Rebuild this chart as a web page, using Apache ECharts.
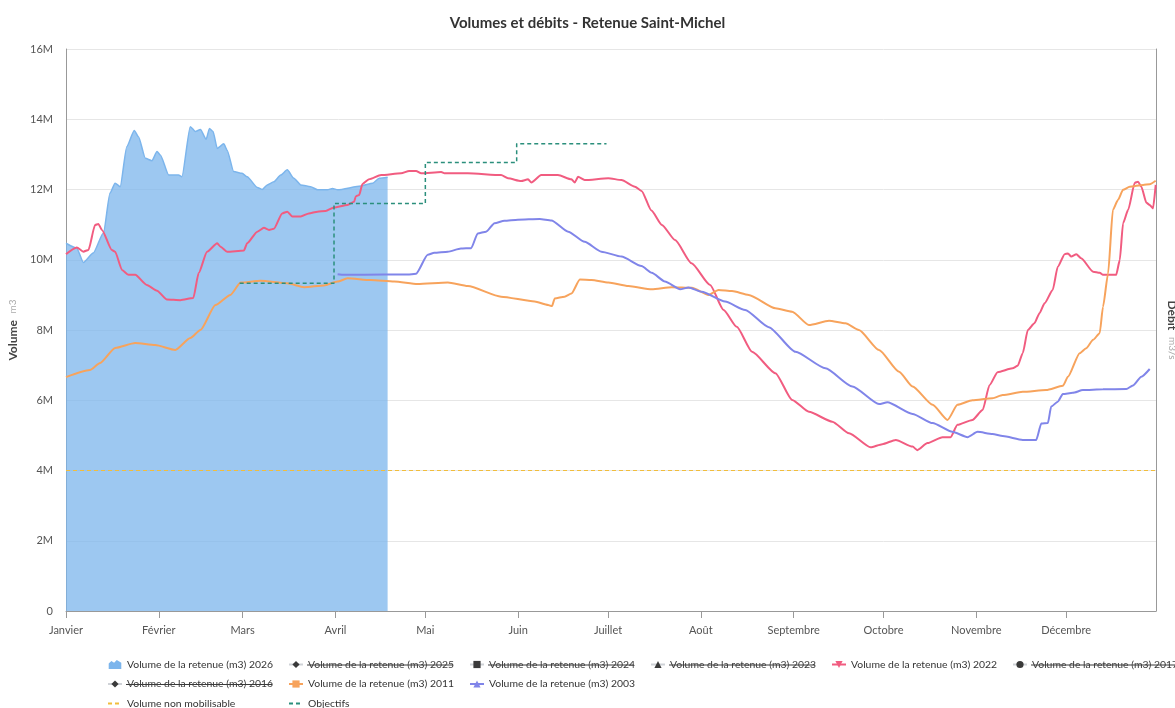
<!DOCTYPE html>
<html>
<head>
<meta charset="utf-8">
<script src="https://cdn.jsdelivr.net/npm/echarts@6/dist/echarts.min.js"></script>
<style>
html,body{margin:0;padding:0;background:#fff;}
#chart{width:1175px;height:708px;}
</style>
</head>
<body>
<div id="chart"></div>
<script>
// ---- Data (values in millions of m3, x = day of year, 0 = 1 January) ----
const MONTH_NAMES = ['Janvier','Février','Mars','Avril','Mai','Juin','Juillet','Août','Septembre','Octobre','Novembre','Décembre'];
const MONTH_START_DAYS = [0,31,59,90,120,151,181,212,243,273,304,334];
const Y_TICKS_M = [0,2,4,6,8,10,12,14,16];

const vol2026 = [
  [0,10.47],[3.6,10.33],[5.8,9.92],[9.1,10.19],[12.5,10.76],[14.7,11.9],[16.4,12.18],[18.1,12.08],
  [20.3,13.22],[22.8,13.68],[24.2,13.5],[26.5,12.89],[28.7,12.82],[30.4,13.08],[31.5,12.98],[34.3,12.41],
  [37.6,12.41],[38.7,12.36],[41.5,13.79],[43.2,13.65],[44.9,13.71],[46.8,13.43],[47.9,13.74],[49.1,13.65],
  [50.5,13.17],[52.7,13.3],[53.8,13.12],[56,12.51],[58.8,12.46],[60.5,12.36],[63.9,12.06],[65.5,12.0],
  [67.2,12.13],[69.4,12.22],[71.7,12.41],[73.9,12.56],[76.1,12.32],[78.4,12.13],[81.7,12.08],[84,11.99],
  [87.3,11.99],[89,12.03],[90.7,11.99],[98.5,12.1],[102.4,12.18],[104.6,12.32],[107.4,12.35]
];
const vol2022 = [
  [0,10.16],[3.6,10.35],[5.8,10.23],[7.5,10.28],[9.7,10.99],[10.8,11.02],[12,10.85],[15.3,10.28],
  [16.4,10.23],[18.7,9.71],[20.9,9.57],[23.1,9.57],[27,9.28],[30.4,9.12],[33.7,8.87],[38.2,8.85],
  [42.5,8.91],[44.3,9.62],[47.1,10.23],[50.5,10.47],[51.6,10.37],[53.8,10.23],[59.4,10.26],[60.5,10.47],
  [63.9,10.8],[66.1,10.91],[67.8,10.85],[69.4,10.88],[72.2,11.32],[73.9,11.37],[75.6,11.23],[78.4,11.23],
  [81.1,11.32],[84,11.37],[86.7,11.39],[89.5,11.49],[94,11.56],[96.2,11.65],[96.8,11.81],[97.9,11.84],
  [99,12.16],[101.2,12.29],[105.2,12.41],[111.9,12.46],[114.6,12.53],[116.9,12.53],[118.6,12.46],[125.3,12.5],
  [126.4,12.46],[134.2,12.46],[145.3,12.41],[147.6,12.32],[152,12.24],[154.3,12.29],[155.4,12.2],[158.7,12.41],
  [164.3,12.41],[168.8,12.29],[169.9,12.2],[171,12.36],[173.2,12.27],[181.1,12.32],[185.5,12.27],[190,12.08],
  [192.2,11.96],[195.5,11.4],[199,10.99],[203.4,10.56],[208.9,9.9],[215.1,9.28],[219.6,8.57],[224,8.09],
  [229.1,7.38],[236.9,6.77],[242.5,6.01],[248.1,5.67],[255.9,5.39],[261.5,5.06],[268.7,4.66],[272.6,4.75],
  [277.1,4.87],[282.7,4.68],[284.3,4.58],[287.7,4.78],[292.7,4.95],[295.4,4.95],[297.7,5.3],[302.7,5.44],
  [306.1,5.72],[308.4,6.43],[311.1,6.8],[316.1,6.91],[317.8,6.98],[319.5,7.34],[321.2,8.0],[323.4,8.19],
  [325.1,8.48],[326.8,8.76],[329.5,9.14],[331.2,9.8],[333.5,10.16],[334.6,10.18],[335.7,10.09],[337.4,10.16],
  [339,10.04],[343,9.66],[345.2,9.63],[346.3,9.57],[350.7,9.57],[351.9,9.99],[353,11.04],[354.7,11.42],
  [356.9,12.19],[358,12.22],[359.1,12.08],[360.8,11.62],[361.9,11.56],[363,11.46],[363.9,12.13]
];
const vol2011 = [
  [0,6.66],[8,6.86],[11.4,7.06],[16.4,7.49],[23.1,7.63],[29.8,7.57],[36.5,7.43],[41.5,7.77],
  [44.9,8.0],[49.9,8.71],[54.9,9.0],[58.3,9.35],[65,9.4],[73.9,9.33],[79.5,9.22],[86.2,9.27],
  [90.7,9.38],[94,9.47],[101.8,9.42],[109.6,9.38],[117.4,9.31],[127.5,9.35],[134.2,9.25],[145.3,8.95],
  [156.5,8.81],[161,8.71],[162.3,8.68],[163.2,8.9],[166.5,8.95],[168.8,9.04],[171.6,9.44],[175.5,9.42],
  [181.1,9.35],[187.8,9.25],[195.6,9.16],[202.3,9.22],[209,9.2],[214.6,9.0],[217.9,9.14],[222.4,9.11],
  [228,9.0],[236.9,8.62],[242.5,8.52],[248.1,8.14],[254.8,8.26],[260.3,8.19],[264.8,8.0],[271.5,7.43],
  [278.2,6.81],[282.7,6.39],[289.4,5.87],[294.4,5.44],[297.7,5.87],[302.7,6.0],[309.4,6.06],[312.8,6.15],
  [319.5,6.24],[327.3,6.29],[332.9,6.41],[334.6,6.67],[338.5,7.34],[340.7,7.48],[343,7.72],[345.2,7.91],
  [346.3,8.66],[348,9.61],[349.6,11.42],[351.3,11.7],[353,11.99],[355.2,12.08],[359.7,12.13],[361.9,12.15],
  [363.9,12.25]
];
const vol2003 = [
  [90.7,9.59],[92.9,9.57],[106.3,9.58],[114.1,9.58],[116.9,9.6],[120.8,10.14],[123,10.2],[127.5,10.23],
  [131.9,10.32],[135.3,10.33],[137.5,10.75],[140.3,10.8],[143.1,11.04],[146.4,11.11],[150.9,11.14],[158.2,11.16],
  [162.1,11.12],[167.7,10.8],[173.2,10.51],[178.8,10.23],[185.5,10.09],[192.2,9.82],[195.6,9.63],[200,9.38],
  [205.1,9.16],[207.9,9.21],[212.3,9.09],[220.1,8.81],[226.8,8.57],[234.7,8.08],[243.6,7.38],[253.6,6.91],
  [262.6,6.39],[271.5,5.89],[274.3,5.94],[282.7,5.61],[289.4,5.35],[296,5.1],[301.1,4.95],[304.4,5.1],
  [309.4,5.04],[312.8,4.98],[319.5,4.87],[324,4.87],[325.7,5.34],[327.9,5.35],[329,5.82],[331.2,5.96],
  [332.9,6.18],[336.2,6.21],[339.6,6.29],[346.3,6.31],[354.1,6.32],[356.3,6.42],[359.1,6.67],[361.9,6.89]
];
const volNonMobilisable = [[0,4],[364,4]];
const objectifs = [[58,9.33],[89.5,11.6],[120,12.77],[150.5,13.3],[180.5,13.3]];

const SERIES_NAMES = {
  y2026:'Volume de la retenue (m3) 2026', y2025:'Volume de la retenue (m3) 2025',
  y2024:'Volume de la retenue (m3) 2024', y2023:'Volume de la retenue (m3) 2023',
  y2022:'Volume de la retenue (m3) 2022', y2017:'Volume de la retenue (m3) 2017',
  y2016:'Volume de la retenue (m3) 2016', y2011:'Volume de la retenue (m3) 2011',
  y2003:'Volume de la retenue (m3) 2003', nonMob:'Volume non mobilisable', obj:'Objectifs'
};
const HIDDEN = [SERIES_NAMES.y2025, SERIES_NAMES.y2024, SERIES_NAMES.y2023, SERIES_NAMES.y2017, SERIES_NAMES.y2016];

// Legend grid: columns of names (top to bottom)
const LEGEND_COLUMNS = [
  [SERIES_NAMES.y2026, SERIES_NAMES.y2016, SERIES_NAMES.nonMob],
  [SERIES_NAMES.y2025, SERIES_NAMES.y2011, SERIES_NAMES.obj],
  [SERIES_NAMES.y2024, SERIES_NAMES.y2003],
  [SERIES_NAMES.y2023],
  [SERIES_NAMES.y2022],
  [SERIES_NAMES.y2017]
];

// ---- Layout ----
const FONT = 'Lato, "Open Sans", sans-serif';
const LEG_LEFT = 102, LEG_TOP = 653, LEG_PAD = 5, LEG_ITEM_W = 14, LEG_ICON_GAP = 5;
const LEG_COL_STEP = 181, LEG_ROW_STEP = 19.5;
const LEG_FONT_SIZE = 10.4, LEG_LINE_H = 13;

const chart = echarts.init(document.getElementById('chart'), null, {renderer:'canvas'});

function legendCfg(col, names){
  const selected = {};
  names.forEach(n => { selected[n] = HIDDEN.indexOf(n) < 0; });
  return {
    top: LEG_TOP, left: LEG_LEFT + col * LEG_COL_STEP, orient:'vertical', padding: LEG_PAD,
    height: 300,
    itemWidth: LEG_ITEM_W, itemHeight: 9, itemGap: LEG_ROW_STEP - LEG_LINE_H,
    inactiveColor:'#3a3a3a', inactiveBorderColor:'#3a3a3a',
    selectedMode: true,
    textStyle:{fontFamily: FONT, fontSize: LEG_FONT_SIZE, lineHeight: LEG_LINE_H, color:'#333'},
    data: names.map(n => {
      if (n === SERIES_NAMES.y2026) return {name:n, icon:'path://M0,12 L0,6 L3,3 L6,5 L9,2 L14,5 L14,12 Z'};
      if (n === SERIES_NAMES.nonMob || n === SERIES_NAMES.obj) return {name:n, itemStyle:{opacity:0}};
      return {name:n};
    }),
    selected: selected
  };
}

const hiddenLine = (name, symbol) => ({
  name, type:'line', data:[], symbol, symbolSize:7, showSymbol:false, color:'#3a3a3a'
});

const option = {
  animation:false,
  backgroundColor:'#fff',
  title:{
    text:'Volumes et débits - Retenue Saint-Michel', left:'center', top:11,
    textStyle:{fontFamily: FONT, fontSize:15, fontWeight:'bold', color:'#333'}
  },
  legend: LEGEND_COLUMNS.map((names, c) => legendCfg(c, names)),
  grid:{left:66, right:19, top:49, bottom:97, containLabel:false, outerBoundsMode:'none'},
  xAxis:{
    type:'value', min:0, max:364,
    axisLine:{show:true, lineStyle:{color:'#999', width:1}},
    axisTick:{show:true, length:7, customValues: MONTH_START_DAYS, lineStyle:{color:'#999'}},
    axisLabel:{
      customValues: MONTH_START_DAYS, margin:14,
      fontFamily: FONT, fontSize:11, color:'#555',
      formatter: v => MONTH_NAMES[MONTH_START_DAYS.indexOf(Math.round(v))] || ''
    },
    splitLine:{show:false}
  },
  yAxis:[{
    type:'value', min:Y_TICKS_M[0], max:Y_TICKS_M[Y_TICKS_M.length-1], interval:2,
    axisLine:{show:true, lineStyle:{color:'#999', width:1}},
    axisTick:{show:false},
    axisLabel:{margin:13, fontFamily: FONT, fontSize:11, color:'#555',
      formatter: v => v === 0 ? '0' : v + 'M'},
    splitLine:{show:true, lineStyle:{color:'#e6e6e6'}},
    name:'{a|Volume}  {b|m3}', nameLocation:'middle', nameGap:41,
    nameTextStyle:{rich:{
      a:{fontFamily: FONT, fontSize:12, fontWeight:'bold', color:'#444'},
      b:{fontFamily: FONT, fontSize:10, color:'#aaa'}
    }}
  },{
    type:'value', min:0, max:1, position:'right',
    axisLine:{show:true, lineStyle:{color:'#999', width:1}},
    axisTick:{show:false}, axisLabel:{show:false}, splitLine:{show:false},
    name:'{a|Débit}  {b|m3/s}', nameLocation:'middle', nameGap:10, nameRotate:-90,
    nameTextStyle:{rich:{
      a:{fontFamily: FONT, fontSize:12, fontWeight:'bold', color:'#444'},
      b:{fontFamily: FONT, fontSize:10, color:'#aaa'}
    }}
  }],
  series:[
    {name:SERIES_NAMES.y2026, type:'line', data:vol2026, showSymbol:false, symbol:'circle',
      color:'#7cb5ec', lineStyle:{width:1.5, color:'#7cb5ec'},
      areaStyle:{color:'#7cb5ec', opacity:0.75}, z:1, smooth:0.2, smoothMonotone:'x'},
    hiddenLine(SERIES_NAMES.y2025,'diamond'),
    hiddenLine(SERIES_NAMES.y2024,'rect'),
    hiddenLine(SERIES_NAMES.y2023,'triangle'),
    {name:SERIES_NAMES.y2022, type:'line', data:vol2022, showSymbol:false,
      symbol:'path://M0,0 L10,0 L5,9 Z', symbolSize:8,
      color:'#f15c80', lineStyle:{width:2}, z:3, smooth:0.2, smoothMonotone:'x'},
    hiddenLine(SERIES_NAMES.y2017,'circle'),
    hiddenLine(SERIES_NAMES.y2016,'diamond'),
    {name:SERIES_NAMES.y2011, type:'line', data:vol2011, showSymbol:false, symbol:'rect', symbolSize:7,
      color:'#f7a35c', lineStyle:{width:2}, z:3, smooth:0.2, smoothMonotone:'x'},
    {name:SERIES_NAMES.y2003, type:'line', data:vol2003, showSymbol:false, symbol:'triangle', symbolSize:8,
      color:'#8085e9', lineStyle:{width:2}, z:3, smooth:0.2, smoothMonotone:'x'},
    {name:SERIES_NAMES.nonMob, type:'line', data:volNonMobilisable, showSymbol:false, symbol:'none',
      color:'#f1bd3c', lineStyle:{width:1, type:[4,3]}, z:2},
    {name:SERIES_NAMES.obj, type:'line', data:objectifs, step:'end', showSymbol:false, symbol:'none',
      color:'#2b8f7c', lineStyle:{width:1.5, type:[4,3]}, z:4}
  ]
};

// Strike-through for hidden legend entries (text positions follow the legend layout above)
(function(){
  const ctx = document.createElement('canvas').getContext('2d');
  ctx.font = LEG_FONT_SIZE + 'px ' + FONT;
  const g = [];
  LEGEND_COLUMNS.forEach((col, c) => {
    col.forEach((n, r) => {
      if (HIDDEN.indexOf(n) < 0) return;
      const x0 = LEG_LEFT + LEG_PAD + c * LEG_COL_STEP + LEG_ITEM_W + LEG_ICON_GAP;
      const w = ctx.measureText(n).width;
      const y = LEG_TOP + LEG_PAD + LEG_LINE_H / 2 + r * LEG_ROW_STEP + 0.5;
      g.push({type:'line', silent:true, z:100,
        shape:{x1:x0, y1:y, x2:x0 + w, y2:y}, style:{stroke:'#3a3a3a', lineWidth:1}});
    });
  });
  option.graphic = g;
})();

chart.setOption(option);
</script>
</body>
</html>
